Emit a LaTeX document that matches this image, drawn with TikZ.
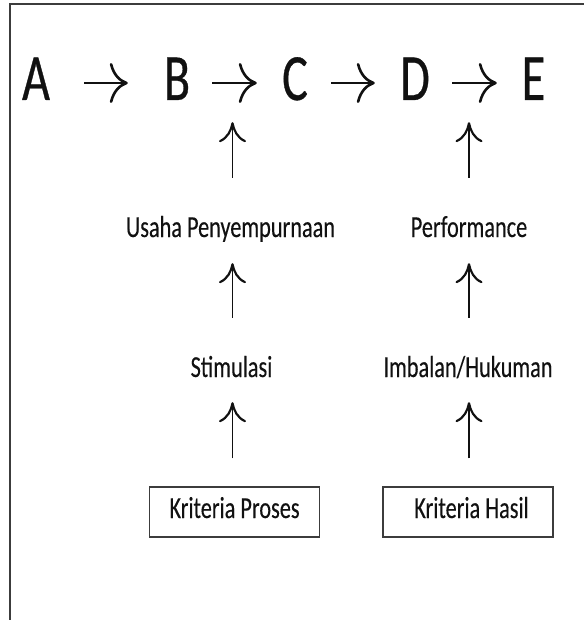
\documentclass[tikz,border=0pt]{standalone}
\usepackage{fontspec}
\setmainfont{Carlito}[FakeStretch=0.73,FakeBold=0.25]
\newfontfamily\bigfont{Carlito}[FakeStretch=0.73,FakeBold=0.5]
\usetikzlibrary{arrows.meta}
\definecolor{ink}{HTML}{111111}
\definecolor{frame}{HTML}{3C3C3C}
\begin{document}
\begin{tikzpicture}[x=1pt,y=-1pt,
  letter/.style={inner sep=0pt, text width=30pt, align=center, text height=42pt, text depth=8pt, text=ink, font=\bigfont\fontsize{66}{66}\selectfont},
  lbl/.style={inner sep=0pt, text height=20pt, text depth=6pt, anchor=base, text=ink, font=\fontsize{30.5}{30.5}\selectfont},
  crit/.style={draw=frame, line width=1.2pt, inner sep=0pt, minimum width=170pt, minimum height=50pt, text height=19pt, text depth=7pt, text=ink, font=\fontsize{30.5}{30.5}\selectfont},
  harrow/.style={draw=ink, line width=2.4pt, -{Computer Modern Rightarrow[length=18pt,width=40pt,line width=2.6pt]}},
  varrow/.style={draw=ink, line width=1.9pt, -{Computer Modern Rightarrow[length=20pt,width=27pt,line width=2.2pt]}}
]
\useasboundingbox (0,0) rectangle (584,620);
\draw[line width=1.5pt, frame] (10,620) -- (10,4) -- (584,4);

% top row
\node[letter] (A) at (36,83) {A};
\node[letter] (B) at (177,83) {B};
\node[letter] (C) at (295,83) {C};
\node[letter] (D) at (415,83) {D};
\node[letter] (E) at (533.5,83) {E};

\draw[harrow, shorten <=33pt, shorten >=34pt] (A) -- (B);
\draw[harrow, shorten <=20pt, shorten >=23pt] (B) -- (C);
\draw[harrow, shorten <=21pt, shorten >=25pt] (C) -- (D);
\draw[harrow, shorten <=22pt, shorten >=21.5pt] (D) -- (E);

% columns
\coordinate (colL) at (232.5,0);
\coordinate (colR) at (469,0);

% labels
\node[lbl] (usaha) at (230.5,237) {Usaha Penyempurnaan};
\node[lbl] (perf) at (469,237) {Performance};
\node[lbl] (stim) at (231.5,377) {Stimulasi};
\node[lbl] (imb) at (468,377) {Imbalan/Hukuman};

% boxes
\node[crit] (k1) at (234.5,512) {Kriteria Proses};
\node[crit] (k2) at (468,512) {\hspace*{7pt}Kriteria Hasil};

% vertical arrows, left column
\draw[varrow, shorten <=39pt, shorten >=14pt] (usaha.north -| colL) -- (B.south -| colL);
\draw[varrow, shorten <=39pt, shorten >=20pt] (stim.north -| colL) -- (usaha.south -| colL);
\draw[varrow, shorten <=28pt, shorten >=19pt] (k1.north -| colL) -- (stim.south -| colL);

% vertical arrows, right column
\draw[varrow, shorten <=39pt, shorten >=14pt] (perf.north -| colR) -- (D.south -| colR);
\draw[varrow, shorten <=39pt, shorten >=20pt] (imb.north -| colR) -- (perf.south -| colR);
\draw[varrow, shorten <=28pt, shorten >=19pt] (k2.north -| colR) -- (imb.south -| colR);
\end{tikzpicture}
\end{document}
